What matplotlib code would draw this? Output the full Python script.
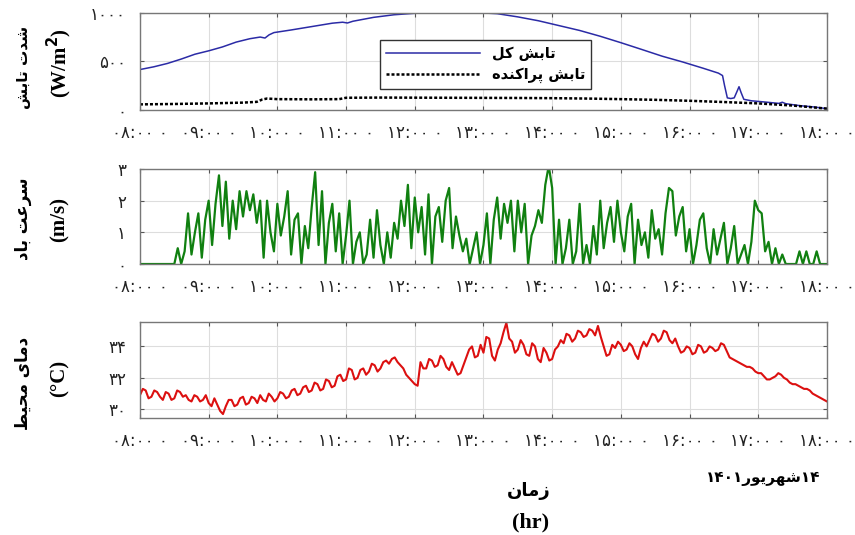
import numpy as np
import matplotlib
matplotlib.use("Agg")
import matplotlib.pyplot as plt

# ---- data ----
hours = list(range(8, 19))

rad_hr = [8.0, 8.2, 8.4, 8.6, 8.8, 9.0, 9.2, 9.4, 9.6, 9.75, 9.82, 9.88, 9.95,
          10.2, 10.5, 10.8, 10.95, 11.02, 11.1, 11.4, 11.7, 12.0, 12.3, 12.6,
          12.9, 13.2, 13.5, 13.8, 14.1, 14.4, 14.7, 15.0, 15.3, 15.6, 15.9,
          16.2, 16.42, 16.48, 16.51, 16.55, 16.6, 16.65, 16.69, 16.72, 16.75,
          16.79, 16.9, 17.1, 17.3, 17.35, 17.4, 17.6, 17.8, 18.0]
rad_total = [417, 445, 480, 525, 575, 610, 650, 700, 735, 752, 742, 775, 798,
             825, 860, 895, 905, 897, 915, 955, 982, 997, 1005, 1008,
             1004, 993, 960, 920, 870, 820, 760, 694, 625, 555, 495,
             430, 380, 355, 250, 125, 118, 125, 190, 240, 180,
             110, 95, 82, 68, 80, 65, 45, 32, 14]

diff_hr = [8.0, 8.5, 9.0, 9.5, 9.7, 9.78, 9.85, 10.0, 10.5, 10.9, 11.0, 11.5,
           12.0, 12.5, 13.0, 13.5, 14.0, 14.5, 15.0, 15.5, 16.0, 16.5, 17.0,
           17.5, 18.0]
rad_diffuse = [58, 62, 68, 76, 84, 108, 118, 112, 110, 112, 126, 128,
               127, 126, 125, 124, 122, 118, 112, 105, 95, 82, 68,
               46, 14]

# wind speed, one value every 3 minutes from 08:00 to 18:00
wind = [0, 0, 0, 0, 0, 0, 0, 0, 0, 0, 0, 0.5, 0, 0.4, 1.6, 0.3, 1.0, 1.6, 0.2, 1.4,
        2.0, 0.6, 1.9, 2.8, 1.2, 2.6, 0.8, 2.0, 1.1, 2.3, 1.5, 2.3, 1.7, 2.2, 1.3,
        2.0, 0.2, 2.0, 1.0, 0.4, 1.9, 0.9, 1.5, 2.3, 0.3, 1.4, 1.6, 0.0, 1.2, 0.5,
        1.8, 2.9, 0.6, 2.3, 0.0, 1.3, 1.9, 0.4, 1.6, 0.0, 0.9, 2.0, 0.0, 0.7, 1.0,
        0.0, 0.3, 1.4, 0.2, 1.7, 0.6, 0.0, 1.0, 0.2, 1.3, 0.8, 2.0, 1.2, 2.5, 0.5,
        2.1, 1.0, 1.8, 0.3, 2.2, 0.0, 1.5, 1.8, 0.7, 2.0, 2.4, 0.5, 1.5, 0.9, 0.4,
        0.8, 0.0, 0.5, 1.0, 0.0, 0.6, 1.6, 0.0, 1.4, 2.1, 0.8, 1.9, 1.3, 2.0, 0.4,
        2.0, 1.0, 1.9, 0.0, 0.9, 1.2, 1.7, 1.3, 2.5, 3.1, 2.4, 0.0, 1.4, 0.0, 0.5,
        1.4, 0.0, 0.4, 1.9, 0.0, 0.6, 0.0, 1.2, 0.3, 2.0, 0.5, 1.3, 1.8, 0.7, 2.0,
        1.0, 0.4, 1.5, 1.9, 0.0, 1.4, 0.6, 1.0, 0.2, 1.7, 0.8, 1.1, 0.3, 1.6, 2.4,
        2.3, 0.9, 1.5, 1.8, 0.4, 1.1, 0.0, 0.6, 1.4, 1.6, 0.5, 0.0, 1.1, 0.3, 0.8,
        1.3, 0.0, 0.5, 1.2, 0.0, 0.3, 0.6, 0.0, 0.7, 2.0, 1.7, 1.6, 0.4, 0.7, 0.0,
        0.5, 0.0, 0.3, 0.0, 0.0, 0.0, 0.0, 0.4, 0.0, 0.4, 0.0, 0.0, 0.4, 0.0, 0.0,
        0.0]

# ambient temperature, one value every 2.5 minutes from 08:00 to 18:00
temp = [30.9, 31.3, 31.2, 30.7, 30.8, 31.2, 31.1, 30.8, 30.6, 31.1, 31.0, 30.6, 30.7, 31.2, 31.1, 30.8, 30.9, 30.6, 30.5, 30.9,
        30.8, 30.5, 30.6, 30.9, 30.4, 30.2, 30.7, 30.3, 29.9, 29.7, 30.2, 30.6, 30.6, 30.2, 30.3, 30.7, 30.8, 30.3, 30.4, 30.8,
        30.7, 30.4, 30.9, 30.6, 30.5, 31.0, 30.8, 30.5, 30.7, 31.1, 31.0, 30.7, 30.8, 31.2, 31.3, 30.9, 31.0, 31.4, 31.5, 31.1,
        31.2, 31.7, 31.6, 31.2, 31.3, 31.9, 31.8, 31.4, 31.5, 32.1, 32.2, 31.8, 31.9, 32.6, 32.5, 31.9, 32.0, 32.5, 32.6, 32.2,
        32.4, 32.9, 32.8, 32.4, 32.6, 33.0, 33.1, 32.9, 33.2, 33.3, 33.0, 32.8, 32.6, 32.2, 32.0, 31.8, 31.6, 31.5, 33.0, 32.6,
        32.6, 33.2, 33.1, 32.7, 32.8, 33.4, 33.2, 32.7, 32.5, 33.0, 32.6, 32.2, 32.3, 32.8, 33.3, 33.8, 34.0, 33.3, 33.4, 34.1,
        33.6, 34.6, 34.5, 33.4, 33.1, 33.8, 34.2, 34.9, 35.5, 34.5, 34.3, 33.6, 33.8, 34.4, 34.1, 33.5, 33.4, 34.2, 34.0, 33.2,
        33.0, 33.9, 33.6, 33.1, 33.2, 33.8, 34.0, 34.4, 34.2, 34.8, 34.7, 34.3, 34.5, 35.0, 34.9, 34.6, 34.7, 35.1, 35.0, 34.7,
        35.3, 34.6, 34.0, 33.4, 33.5, 34.1, 33.9, 34.3, 34.1, 33.7, 33.8, 34.2, 34.0, 33.5, 33.2, 33.9, 34.3, 34.0, 34.4, 34.8,
        34.7, 34.3, 34.5, 35.0, 34.9, 34.4, 34.2, 34.5, 34.0, 33.6, 33.7, 34.0, 33.9, 33.5, 33.6, 34.1, 34.0, 33.6, 33.7, 34.0,
        33.9, 33.7, 33.8, 34.2, 34.1, 33.7, 33.3, 33.2, 33.1, 33.0, 32.9, 32.8, 32.7, 32.7, 32.6, 32.4, 32.3, 32.3, 32.1, 31.9,
        31.9, 32.0, 32.1, 32.3, 32.2, 32.0, 31.9, 31.7, 31.6, 31.6, 31.5, 31.4, 31.3, 31.3, 31.2, 31.0, 30.9, 30.8, 30.7, 30.6,
        30.5]

wind_hr = 8 + np.arange(len(wind)) * 3 / 60
temp_hr = 8 + np.arange(len(temp)) * 2.5 / 60

# ---- Persian text helpers (matplotlib has no Arabic shaping) ----
FORMS = {
    'ا': ('\uFE8D', '\uFE8E', None, None),
    'ب': ('\uFE8F', '\uFE90', '\uFE91', '\uFE92'),
    'پ': ('\uFB56', '\uFB57', '\uFB58', '\uFB59'),
    'ت': ('\uFE95', '\uFE96', '\uFE97', '\uFE98'),
    'ح': ('\uFEA1', '\uFEA2', '\uFEA3', '\uFEA4'),
    'د': ('\uFEA9', '\uFEAA', None, None),
    'ر': ('\uFEAD', '\uFEAE', None, None),
    'ز': ('\uFEAF', '\uFEB0', None, None),
    'س': ('\uFEB1', '\uFEB2', '\uFEB3', '\uFEB4'),
    'ش': ('\uFEB5', '\uFEB6', '\uFEB7', '\uFEB8'),
    'ط': ('\uFEC1', '\uFEC2', '\uFEC3', '\uFEC4'),
    'ع': ('\uFEC9', '\uFECA', '\uFECB', '\uFECC'),
    'ک': ('\uFB8E', '\uFB8F', '\uFB90', '\uFB91'),
    'ل': ('\uFEDD', '\uFEDE', '\uFEDF', '\uFEE0'),
    'م': ('\uFEE1', '\uFEE2', '\uFEE3', '\uFEE4'),
    'ن': ('\uFEE5', '\uFEE6', '\uFEE7', '\uFEE8'),
    'ه': ('\uFEE9', '\uFEEA', '\uFEEB', '\uFEEC'),
    'و': ('\uFEED', '\uFEEE', None, None),
    'ی': ('\uFBFC', '\uFBFD', '\uFBFE', '\uFBFF'),
}


def fa(text):
    out = []
    for i, c in enumerate(text):
        f = FORMS.get(c)
        if f is None:
            out.append(c)
            continue
        prev = text[i - 1] if i > 0 else None
        nxt = text[i + 1] if i < len(text) - 1 else None
        jp = prev in FORMS and FORMS[prev][2] is not None
        jn = nxt in FORMS and f[2] is not None
        if jp and jn:
            out.append(f[3])
        elif jp:
            out.append(f[1])
        elif jn:
            out.append(f[2])
        else:
            out.append(f[0])
    return ''.join(reversed(out))


DIG = str.maketrans('0123456789', '۰۱۲۳۴۵۶۷۸۹')


def fnum(s):
    return str(s).translate(DIG)


xlabels = [fnum(f"{h:02d}:00 0") for h in hours]

# ---- figure ----
fig = plt.figure(figsize=(8.55, 5.35), dpi=100)
left, width = 0.1637, 0.8035
ax1 = fig.add_axes([left, 0.7944, width, 0.1813])
ax2 = fig.add_axes([left, 0.5065, width, 0.1776])
ax3 = fig.add_axes([left, 0.2187, width, 0.1794])

fa_font = dict(family=['DejaVu Sans'], fontweight='bold')
serif = dict(family=['Liberation Serif'], fontweight='bold')

ax1.plot(rad_hr, rad_total, color='#2b2ba6', lw=1.1, label=fa('تابش کل'))
ax1.plot(diff_hr, rad_diffuse, color='black', lw=1.8, ls=(0, (1.2, 0.8)),
         label=fa('تابش پراکنده'))
ax1.set_ylim(0, 1000)
ax1.set_yticks([0, 500, 1000])
ax1.set_yticklabels([fnum(v) for v in [0, 500, 1000]])

ax2.plot(wind_hr, wind, color='#108010', lw=1.6)
ax2.set_ylim(0, 3)
ax2.set_yticks([0, 1, 2, 3])
ax2.set_yticklabels([fnum(v) for v in [0, 1, 2, 3]])

ax3.plot(temp_hr, temp, color='#dc1010', lw=1.5)
ax3.set_ylim(29.45, 35.55)
ax3.set_yticks([30, 32, 34])
ax3.set_yticklabels([fnum(v) for v in [30, 32, 34]])

for ax in (ax1, ax2, ax3):
    ax.set_xlim(8, 18)
    ax.set_xticks(hours)
    ax.set_xticklabels(xlabels)
    ax.grid(True, color='#dddddd', lw=0.8)
    ax.tick_params(direction='in', length=3, color='#555555', labelsize=12,
                   top=True, right=True, pad=10)
    for lab in ax.get_xticklabels() + ax.get_yticklabels():
        lab.set_family(['DejaVu Sans'])
        lab.set_color('#222222')
    for s in ax.spines.values():
        s.set_color('#777777')
        s.set_linewidth(1.0)

leg = ax1.legend(loc='center', bbox_to_anchor=(0.503, 0.47), handlelength=6.5,
                 prop={'family': 'DejaVu Sans', 'weight': 'bold', 'size': 10.5},
                 fancybox=False, edgecolor='#333333', framealpha=1,
                 borderpad=0.4, labelspacing=0.4)
leg.get_frame().set_linewidth(1.0)

# y labels (two lines: Persian + unit)
ylabs = [('شدت تابش', '(W/m$^\\mathbf{2}$)', 0.874, 0.882, 11),
         ('سرعت باد', '(m/s)', 0.592, 0.589, 12),
         ('دمای محیط', '(°C)', 0.284, 0.292, 12)]
for name, unit, yc, yu, fs in ylabs:
    fig.text(0.027, yc, fa(name), rotation=90, ha='center', va='center',
             fontsize=fs, **fa_font)
    fig.text(0.07, yu, unit, rotation=90, ha='center', va='center',
             fontsize=15, **serif)

fig.text(0.618, 0.082, fa('زمان'), ha='center', va='center', fontsize=13, **fa_font)
fig.text(0.62, 0.024, '(hr)', ha='center', va='center', fontsize=16, **serif)
fig.text(0.893, 0.106, fnum('1401') + fa('شهریور') + fnum('14'),
         ha='center', va='center', fontsize=11, **fa_font)

fig.savefig('out.png', dpi=100)
